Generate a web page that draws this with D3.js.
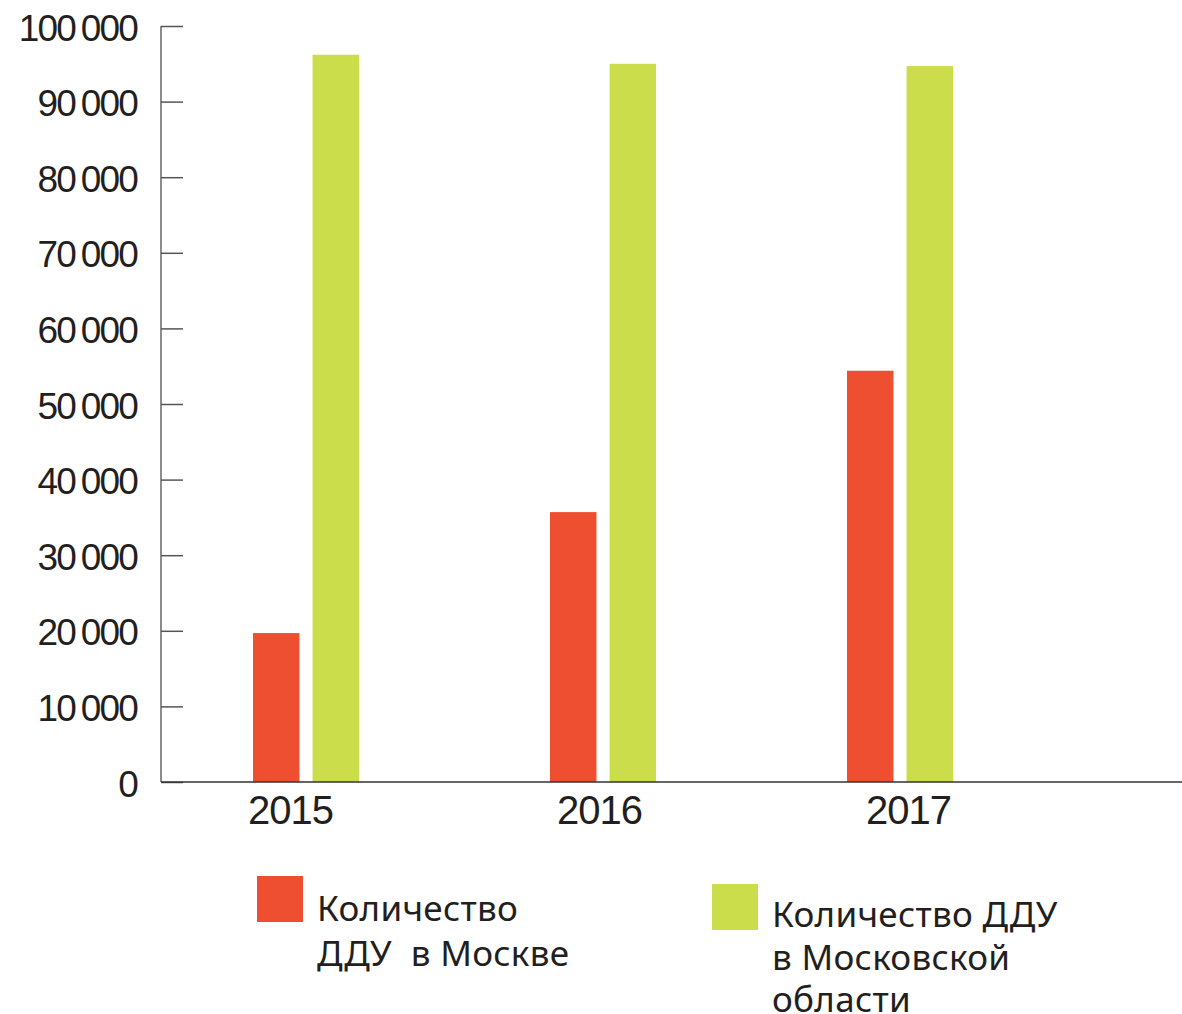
<!DOCTYPE html>
<html><head><meta charset="utf-8">
<script src="https://cdn.jsdelivr.net/npm/d3@7"></script>
<style>
html,body{margin:0;padding:0;background:#fff;}
svg{display:block;}
</style></head>
<body>
<script>
const years = ["2015", "2016", "2017"];
const seriesNames = ["Количество ДДУ в Москве", "Количество ДДУ в Московской области"];
const moscow = [19700, 35700, 54400];
const oblast = [96200, 95000, 94700];
const yTicks = [0, 10000, 20000, 30000, 40000, 50000, 60000, 70000, 80000, 90000, 100000];
const legendLines = [["Количество", "ДДУ  в Москве"], ["Количество ДДУ", "в Московской", "области"]];
const colors = ["#EF4F31", "#CBDD4B"];

const W = 1182, H = 1014;
const svg = d3.select("body").append("svg").attr("width", W).attr("height", H);

const y = d3.scaleLinear().domain([0, 100000]).range([782, 26]);
const xGroup = d3.scalePoint().domain(years).range([306, 900]);
const xLabel = d3.scalePoint().domain(years).range([290, 908]);
const xSub = d3.scaleBand().domain([0, 1]).range([-53, 53]).paddingInner(0.22);

const loc = d3.formatLocale({decimal: ",", thousands: "\u2009", grouping: [3], currency: ["", ""]});
const fmt = loc.format(",d");

// bars
const series = [moscow, oblast];
series.forEach((vals, si) => {
  svg.append("g").selectAll("rect").data(vals).join("rect")
    .attr("x", (d, i) => xGroup(years[i]) + xSub(si))
    .attr("width", xSub.bandwidth())
    .attr("y", d => y(d))
    .attr("height", d => y(0) - y(d))
    .attr("fill", colors[si]);
});

// y axis
const yAxis = d3.axisLeft(y).tickValues(yTicks).tickSize(-22).tickPadding(24).tickFormat(fmt);
const gy = svg.append("g").attr("transform", "translate(161,0)").call(yAxis);
gy.select(".domain").attr("stroke", "#8c8c8c").attr("stroke-width", 2).attr("d", `M0,${y(100000)}V${y(0)}`);
gy.selectAll(".tick line").attr("stroke", "#555").attr("stroke-width", 1.5);
gy.selectAll(".tick text")
  .attr("font-family", "'Liberation Sans', Arial, sans-serif")
  .attr("font-size", 37).attr("fill", "#231f20")
  .attr("letter-spacing", "-1.8px")
  .attr("dy", "0.38em");

// x axis line
svg.append("line").attr("x1", 161).attr("x2", W).attr("y1", y(0)).attr("y2", y(0))
  .attr("stroke", "#333").attr("stroke-width", 1.6);

// x labels
const xAxis = d3.axisBottom(xLabel).tickSize(0).tickPadding(14);
const gx = svg.append("g").attr("transform", `translate(0,${y(0)})`).call(xAxis);
gx.select(".domain").remove();
gx.selectAll(".tick text")
  .attr("font-family", "'Liberation Sans', Arial, sans-serif")
  .attr("font-size", 40).attr("fill", "#231f20")
  .attr("letter-spacing", "-1px")
  .attr("dy", "0.71em");

// legend
const legendPos = [{x: 257, y: 876, base: 45, step: 45}, {x: 712, y: 884, base: 43, step: 42.5}];
legendLines.forEach((lines, i) => {
  const p = legendPos[i];
  const g = svg.append("g").attr("transform", `translate(${p.x},${p.y})`);
  g.append("rect").attr("width", 46).attr("height", 46).attr("fill", colors[i]);
  const t = g.append("text")
    .attr("font-family", "'Noto Sans', 'Open Sans', sans-serif")
    .attr("font-size", 35).attr("letter-spacing", "0.3px").attr("fill", "#231f20");
  lines.forEach((ln, j) => {
    t.append("tspan").attr("x", 60).attr("y", p.base + j * p.step).attr("xml:space", "preserve").style("white-space", "pre").text(ln);
  });
});
</script>
</body></html>
